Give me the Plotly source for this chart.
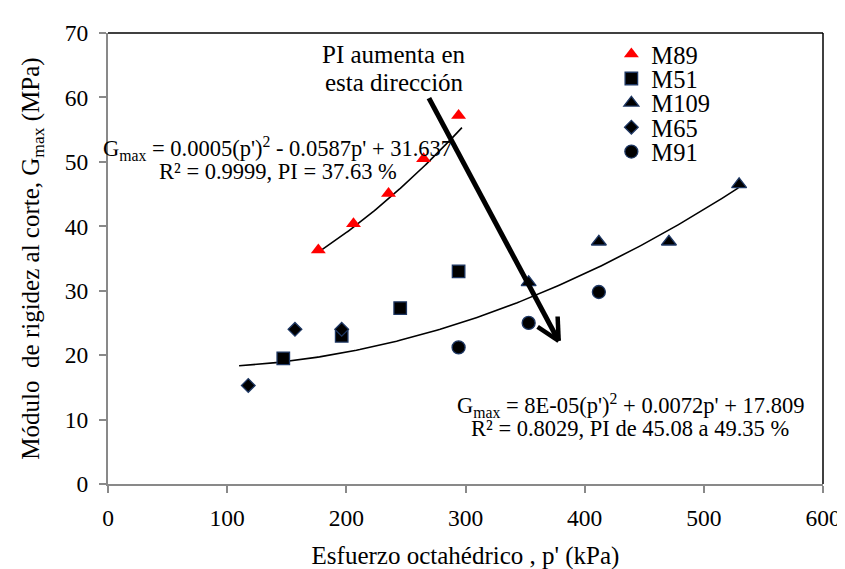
import numpy as np
import plotly.graph_objects as go

# ---- data ----
m89_p = [176.5, 206.0, 235.4, 264.8, 294.2]
m89_g = [36.3, 40.4, 45.1, 50.5, 57.2]
m51_p = [147.1, 196.1, 245.2, 294.2]
m51_g = [19.5, 23.0, 27.3, 33.0]
m109_p = [353.0, 411.9, 470.7, 529.6]
m109_g = [31.3, 37.6, 37.6, 46.5]
m65_p = [117.7, 156.9, 196.1]
m65_g = [15.3, 24.0, 24.0]
m91_p = [294.2, 353.0, 411.9]
m91_g = [21.2, 25.0, 29.8]

# trendlines as drawn in the reference
trend_hi_p = [179, 207, 237, 266, 297]
trend_hi_g = [36.3, 40.0, 44.5, 49.5, 55.3]
trend_lo_p = [110, 147, 232, 353.6, 413, 472, 529]
trend_lo_g = [18.2, 19.0, 21.9, 29.2, 33.4, 39.2, 46.3]

x_ticks = [0, 100, 200, 300, 400, 500, 600]
y_ticks = [0, 10, 20, 30, 40, 50, 60, 70]

FONT = "Liberation Serif, DejaVu Serif, serif"
NAVY = "#1F3864"

fig = go.Figure()

for tp, tg in ((trend_hi_p, trend_hi_g), (trend_lo_p, trend_lo_g)):
    c = np.polyfit(tp, tg, 2)
    xs = np.linspace(min(tp), max(tp), 150)
    fig.add_trace(go.Scatter(x=xs, y=np.polyval(c, xs), mode="lines",
                             line=dict(color="black", width=1.6),
                             showlegend=False, hoverinfo="skip"))

legend_y = [0.953, 0.899, 0.845, 0.791, 0.737]
legend_names = ["legend", "legend2", "legend3", "legend4", "legend5"]

series = [
    ("M89", m89_p, m89_g, "triangle-up", "#FF0000", 13, None),
    ("M51", m51_p, m51_g, "square", "black", 12.5, NAVY),
    ("M109", m109_p, m109_g, "triangle-up", "black", 13, NAVY),
    ("M65", m65_p, m65_g, "diamond", "black", 10.5, NAVY),
    ("M91", m91_p, m91_g, "circle", "black", 13, NAVY),
]
for i, (name, xs, ys, sym, col, size, lcol) in enumerate(series):
    fig.add_trace(go.Scatter(
        x=xs, y=ys, mode="markers", name=name, legend=legend_names[i],
        marker=dict(symbol=sym, size=size, color=col,
                    line=dict(color=lcol or col, width=1.3 if lcol else 0)),
    ))

# big arrow "PI aumenta en esta dirección"
x0, y0 = 269.3, 59.9
xt, yt = 378.2, 22.2
fig.add_shape(type="line", x0=x0, y0=y0, x1=xt, y1=yt, line=dict(color="black", width=5))
fig.add_shape(type="line", x0=xt, y0=yt, x1=377.3, y1=26.0, line=dict(color="black", width=4.5))
fig.add_shape(type="line", x0=xt, y0=yt, x1=360.5, y1=24.4, line=dict(color="black", width=4.5))

# plot-area border top/right (black)
fig.add_shape(type="line", xref="paper", yref="paper", x0=0, y0=1, x1=1, y1=1,
              line=dict(color="black", width=1.5))
fig.add_shape(type="line", xref="paper", yref="paper", x0=1, y0=0, x1=1, y1=1,
              line=dict(color="black", width=1.5))

def txt(x, y, s, size):
    fig.add_annotation(x=x, y=y, text=s, showarrow=False, xanchor="center", yanchor="middle",
                       font=dict(family=FONT, size=size, color="black"))

txt(240.3, 66.7, "PI aumenta en", 25)
txt(240.3, 62.3, "esta dirección", 25)
txt(142.5, 52.0, "G<sub>max</sub> = 0.0005(p')<sup>2</sup> - 0.0587p' + 31.637", 22.5)
txt(142.5, 48.5, "R² = 0.9999, PI = 37.63 %", 22.5)
txt(438.4, 12.2, "G<sub>max</sub> = 8E-05(p')<sup>2</sup> + 0.0072p' + 17.809", 22.5)
txt(438.4, 8.6, "R² = 0.8029, PI de 45.08 a 49.35 %", 22.5)

layout_legends = {}
for nm, ly in zip(legend_names, legend_y):
    layout_legends[nm] = dict(x=0.704, y=ly, xanchor="left", yanchor="middle",
                              font=dict(family=FONT, size=24.5, color="black"),
                              bgcolor="rgba(0,0,0,0)", itemwidth=30)

fig.update_layout(
    width=845, height=569,
    margin=dict(l=100, r=21, t=20, b=85),
    paper_bgcolor="white", plot_bgcolor="white",
    font=dict(family=FONT, size=23.5, color="black"),
    showlegend=True,
    **layout_legends,
)
fig.update_xaxes(range=[0, 600], tickvals=x_ticks, showgrid=False, zeroline=False,
                 showline=True, linecolor="#898989", linewidth=2,
                 ticks="outside", tickcolor="#898989", ticklen=7, tickwidth=1.5,
                 ticklabelstandoff=5,
                 title=dict(text="Esfuerzo octahédrico , p' (kPa)", standoff=16,
                            font=dict(family=FONT, size=25)),
                 tickfont=dict(family=FONT, size=23.5))
fig.update_yaxes(range=[0, 70], tickvals=y_ticks, showgrid=False, zeroline=False,
                 showline=True, linecolor="#898989", linewidth=2,
                 ticks="outside", tickcolor="#898989", ticklen=7, tickwidth=1.5,
                 ticklabelstandoff=6,
                 title=dict(text="Módulo  de rigidez al corte, G<sub>max</sub> (MPa)", standoff=18,
                            font=dict(family=FONT, size=25)),
                 tickfont=dict(family=FONT, size=23.5))

fig.write_html("out.html")
